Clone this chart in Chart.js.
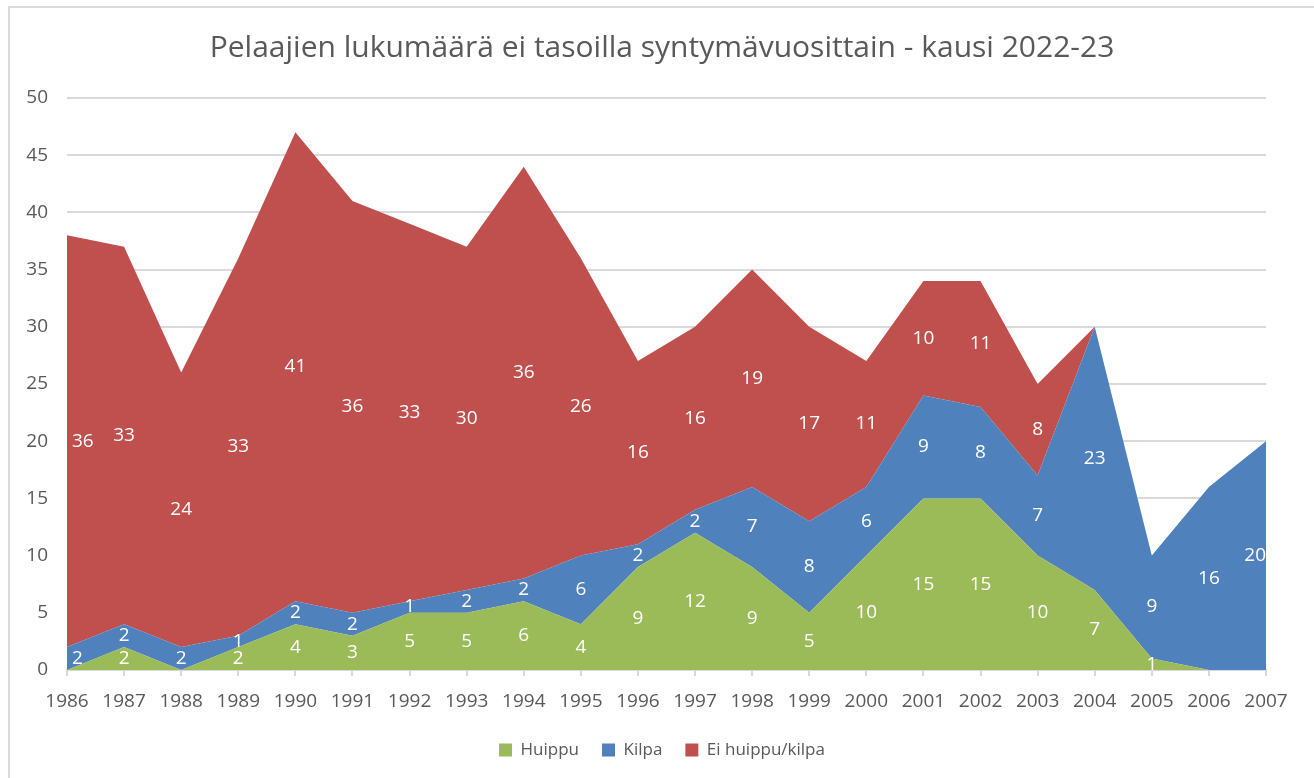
<!DOCTYPE html>
<html lang="fi">
<head>
<meta charset="utf-8">
<title>Pelaajien lukumäärä</title>
<script src="https://cdn.jsdelivr.net/npm/chart.js@4.4.1/dist/chart.umd.min.js"></script>
<style>
  html, body { margin: 0; padding: 0; background: #fff; overflow: hidden; }
  #wrap { position: absolute; left: 0; top: 0; width: 1314px; height: 778px; }
  #frame { position: absolute; left: 8px; top: 6px; width: 1400px; height: 900px;
           border: 2px solid #d9d9d9; pointer-events: none; }
  #chart { position: absolute; left: 0; top: 0; }
</style>
</head>
<body>
<div id="wrap">
  <div id="frame"></div>
  <canvas id="chart" width="1314" height="778"></canvas>
</div>
<script>
const years = ["1986", "1987", "1988", "1989", "1990", "1991", "1992", "1993", "1994", "1995", "1996",
  "1997", "1998", "1999", "2000", "2001", "2002", "2003", "2004", "2005", "2006", "2007"];
const huippu = [0, 2, 0, 2, 4, 3, 5, 5, 6, 4, 9, 12, 9, 5, 10, 15, 15, 10, 7, 1, 0, 0];
const kilpa = [2, 2, 2, 1, 2, 2, 1, 2, 2, 6, 2, 2, 7, 8, 6, 9, 8, 7, 23, 9, 16, 20];
const eiHuippuKilpa = [36, 33, 24, 33, 41, 36, 33, 30, 36, 26, 16, 16, 19, 17, 11, 10, 11, 8, 0, 0, 0, 0];
const yTicks = [0, 5, 10, 15, 20, 25, 30, 35, 40, 45, 50];

const FONT = "'Open Sans', sans-serif";
const GREY = "#595959";
const GRID = "#d9d9d9";

// white value labels in the middle of each stacked band (zeros left out)
const bandLabels = {
  id: "bandLabels",
  afterDatasetsDraw(chart) {
    const { ctx, scales: { x, y } } = chart;
    const last = years.length - 1;
    ctx.save();
    ctx.font = `19px ${FONT}`;
    ctx.fillStyle = "#fff";
    ctx.textBaseline = "middle";
    const base = years.map(() => 0);
    chart.data.datasets.forEach(ds => {
      ds.data.forEach((v, i) => {
        const mid = base[i] + v / 2;
        base[i] += v;
        if (v === 0) return;
        let px = x.getPixelForValue(i);
        ctx.textAlign = "center";
        if (i === 0) { ctx.textAlign = "left"; px += 5; }
        if (i === last) { ctx.textAlign = "right"; }
        ctx.fillText(String(v), px, y.getPixelForValue(mid));
      });
    });
    ctx.restore();
  }
};

new Chart(document.getElementById("chart"), {
  type: "line",
  data: {
    labels: years,
    datasets: [
      { label: "Huippu", data: huippu, backgroundColor: "#9bbb59", fill: "origin" },
      { label: "Kilpa", data: kilpa, backgroundColor: "#4f81bd", fill: "-1" },
      { label: "Ei huippu/kilpa", data: eiHuippuKilpa, backgroundColor: "#c0504d", fill: "-1" }
    ].map(d => ({ ...d, borderWidth: 0, pointRadius: 0, tension: 0 }))
  },
  options: {
    responsive: false,
    animation: false,
    layout: { padding: { top: 0, left: 10, right: 0, bottom: 9.5 } },
    plugins: {
      title: {
        display: true,
        text: "Pelaajien lukumäärä ei tasoilla syntymävuosittain - kausi 2022-23",
        color: GREY,
        font: { family: FONT, size: 30, weight: "normal", lineHeight: 1.2 },
        padding: { top: 30, bottom: 32 }
      },
      legend: {
        position: "bottom",
        labels: {
          color: GREY,
          font: { family: FONT, size: 17 },
          boxWidth: 13,
          boxHeight: 13,
          padding: 23
        }
      },
      tooltip: { enabled: false }
    },
    scales: {
      x: {
        offset: false,
        grid: { drawOnChartArea: false, drawTicks: true, tickLength: 6, color: GRID, lineWidth: 2 },
        border: { color: GRID, width: 2 },
        ticks: { color: GREY, font: { family: FONT, size: 19 }, padding: 14, maxRotation: 0, autoSkip: false },
        afterFit(scale) { scale.height = 48.5; }
      },
      y: {
        stacked: true,
        min: 0,
        max: 50,
        afterBuildTicks(scale) { scale.ticks = yTicks.map(v => ({ value: v })); },
        grid: { drawTicks: false, color: GRID, lineWidth: 2 },
        border: { display: false },
        ticks: { color: GREY, font: { family: FONT, size: 19 }, padding: 19 },
        afterFit(scale) { scale.width = 57; }
      },
      // empty strip on the right so the plot ends short of the edge
      gap: {
        position: "right",
        min: 0,
        max: 50,
        grid: { display: false },
        border: { display: false },
        ticks: { display: false },
        afterFit(scale) { scale.width = 48; }
      }
    }
  },
  plugins: [bandLabels]
});
</script>
</body>
</html>
